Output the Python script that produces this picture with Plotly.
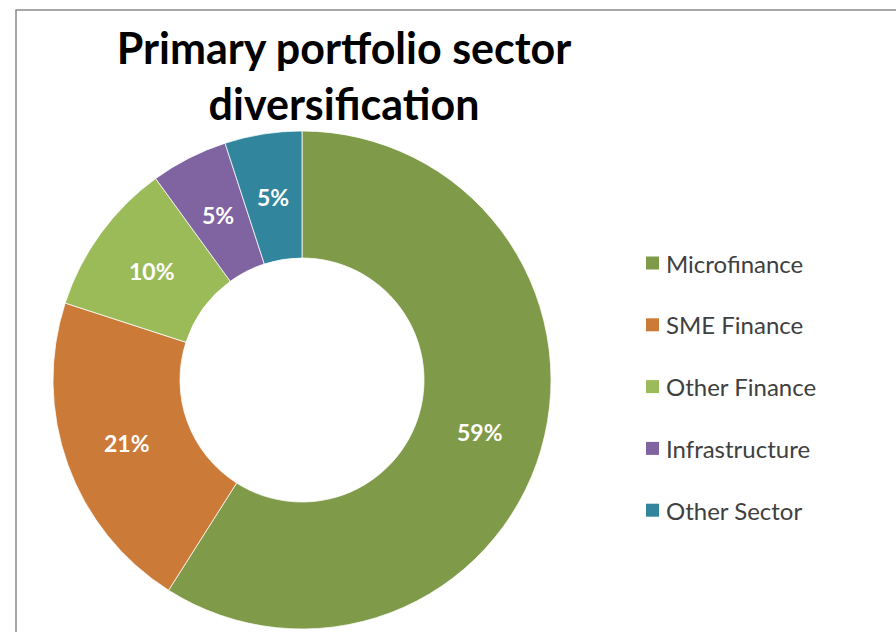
import math
import plotly.graph_objects as go

categories = ["Microfinance", "SME Finance", "Other Finance", "Infrastructure", "Other Sector"]
values = [59, 21, 10, 5, 5]
colors = ["#7F9A48", "#CC7A37", "#9BBB59", "#8064A2", "#31859C"]
title_text = "Primary portfolio sector<br>diversification"

W, H = 896, 632
CX, CY, R = 302, 380, 249      # pie centre / radius in pixels
HOLE = 0.49

fig = go.Figure()
fig.add_trace(go.Pie(
    labels=categories,
    values=values,
    hole=HOLE,
    sort=False,
    direction="clockwise",
    rotation=0,
    marker=dict(colors=colors, line=dict(color="white", width=0.75)),
    textinfo="none",
    domain=dict(x=[(CX - R) / W, (CX + R) / W], y=[(H - CY - R) / H, (H - CY + R) / H]),
    showlegend=False,
    hoverinfo="label+percent",
))

# Percentage labels at the middle of each ring segment
total = sum(values)
r_mid = R * (1 + HOLE) / 2
cum = 0
for v in values:
    mid = (cum + v / 2) / total * 2 * math.pi
    cum += v
    px = CX + r_mid * math.sin(mid)
    py = CY - r_mid * math.cos(mid)
    fig.add_annotation(x=px / W, y=1 - py / H, xref="paper", yref="paper",
                       text=f"{round(v / total * 100)}%", showarrow=False,
                       xanchor="center", yanchor="middle",
                       font=dict(family="Lato", size=23, color="white", weight="bold"))

# Custom legend built from the category list
legend_y0 = 263
legend_step = 61.8
for i, (name, col) in enumerate(zip(categories, colors)):
    yc = legend_y0 + i * legend_step
    fig.add_shape(type="rect", xref="paper", yref="paper",
                  x0=646 / W, x1=659 / W, y0=1 - (yc + 6.5) / H, y1=1 - (yc - 6.5) / H,
                  fillcolor=col, line=dict(width=0))
    fig.add_annotation(x=664 / W, y=1 - yc / H, xref="paper", yref="paper",
                       text=name, showarrow=False, xanchor="left", yanchor="middle",
                       font=dict(family="Lato", size=24, color="#404040"))

# chart border (partially cropped)
fig.add_shape(type="rect", xref="paper", yref="paper",
              x0=16 / W, x1=1.05, y0=-0.05, y1=1 - 10 / H,
              line=dict(color="#8A8A8A", width=1.5), fillcolor="rgba(0,0,0,0)")

fig.update_layout(
    width=W, height=H,
    margin=dict(l=0, r=0, t=0, b=0),
    paper_bgcolor="white",
    plot_bgcolor="white",
    title=dict(text=title_text, x=344 / W, xanchor="center", xref="paper",
               y=1 - 64 / H, yanchor="top", yref="container",
               font=dict(family="Lato", size=43, color="black", weight="bold")),
)

fig.write_html("out.html", config={"displayModeBar": False},
               post_script="document.body.style.margin='0';")
